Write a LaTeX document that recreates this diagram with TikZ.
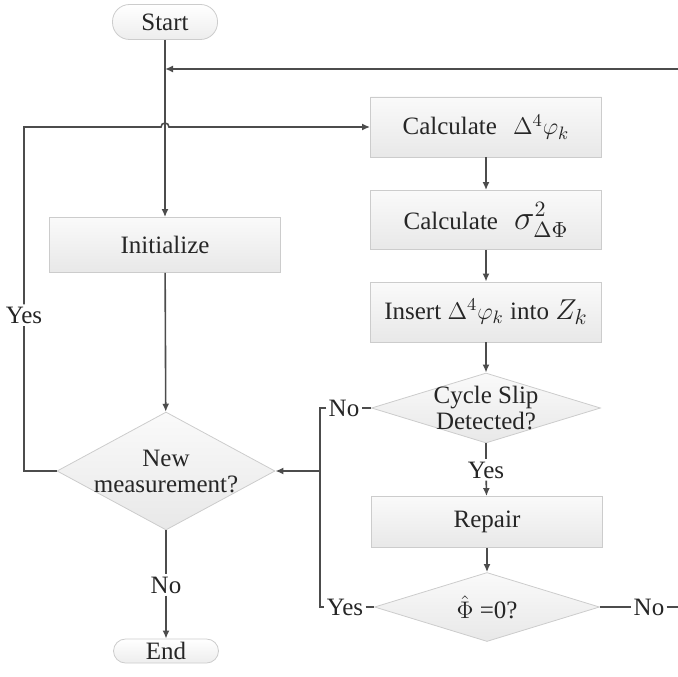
\documentclass[tikz,border=0pt]{standalone}
\usepackage{fontspec}
\setmainfont{Liberation Serif}
\usetikzlibrary{arrows.meta,shapes.geometric}
\begin{document}
\begin{tikzpicture}[x=0.5pt,y=0.5pt,
    font=\fontsize{12.5}{13}\selectfont, text=black!85,
    flow/.style={draw=black!70,line width=0.8pt},
    arr/.style={flow,-{Latex[length=4pt,width=3.5pt]}},
    pill/.style={draw=black!20,top color=white,bottom color=black!7,minimum width=52.5pt,inner sep=0pt},
    proc/.style={draw=black!20,top color=black!2,bottom color=black!9,minimum width=115.5pt,inner sep=1pt},
    decide/.style={diamond,draw=black!20,top color=black!2,bottom color=black!9,inner sep=-3pt,align=center},
    tag/.style={fill=white,inner sep=1pt}]
    \useasboundingbox (0,0) rectangle (678,676);
    \node (start) at (165,654) [pill,minimum height=17.5pt,rounded corners=8.5pt] {Start};
    \node (init) at (165,431) [proc,minimum height=27.5pt] {Initialize};
    \node (newm) at (166,205) [decide,aspect=1.85,minimum width=109pt,minimum height=59pt] {New\\measurement?};
    \node (end) at (166,25) [pill,minimum height=12pt,rounded corners=6pt] {End};
    \node (calcd) at (486,549) [proc,minimum height=30pt] {Calculate\hspace{8pt}$\Delta^4\varphi_k$};
    \node (calcs) at (486,456) [proc,minimum height=29.5pt] {Calculate\hspace{8pt}{\fontsize{16}{16}\selectfont$\sigma^2_{\Delta\Phi}$}};
    \node (insert) at (486,364) [proc,minimum height=30pt] {Insert $\Delta^4\varphi_k$ into {\fontsize{15}{15}\selectfont$Z_k$}};
    \node (slip) at (486,268) [decide,aspect=3.27,minimum width=114.5pt,minimum height=35pt] {Cycle Slip\\Detected?};
    \node (repair) at (487,154) [proc,minimum height=25.5pt] {Repair};
    \node (phi) at (487,69) [decide,aspect=3.26,minimum width=112.5pt,minimum height=34.5pt] {$\hat{\Phi}$ =0?};
    \node (yesnew) at (24,361) [tag] {Yes};
    \node (nonew) at (166,91) [tag] {No};
    \node (yesslip) at (486,206) [tag] {Yes};
    \node (noslip) at (344,268) [tag] {No};
    \node (yesphi) at (345,69) [tag] {Yes};
    \node (nophi) at (649,69) [tag] {No};
    \coordinate (back) at (678,607);
    \coordinate (out) at (678,69);
    \coordinate (hop) at (161,549);
    \coordinate (jointop) at (320,268);
    \coordinate (joinbot) at (320,69);
    \draw[arr] (start) -- (init);
    \draw[arr] (back) -- (back -| start.south);
    \draw[arr] (init) -- (newm);
    \draw[flow] (newm.west) -| (yesnew.south);
    \draw[arr] (yesnew.north) |- (hop) arc (180:0:4) -- (calcd.west);
    \draw[flow] (newm.south) -- (nonew);
    \draw[arr] (nonew) -- (end);
    \draw[arr] (calcd) -- (calcs);
    \draw[arr] (calcs) -- (insert);
    \draw[arr] (insert) -- (slip);
    \draw[flow] (slip.south) -- (yesslip);
    \draw[arr] (yesslip) -- (repair);
    \draw[arr] (repair) -- (phi);
    \draw[flow] (slip.west) -- (noslip);
    \draw[flow] (noslip) -- (jointop) -- (joinbot) -- (yesphi);
    \draw[flow] (yesphi) -- (phi.west);
    \draw[arr] (jointop |- newm) -- (newm.east);
    \draw[flow] (phi.east) -- (nophi) -- (out);
  \end{tikzpicture}
\end{document}
